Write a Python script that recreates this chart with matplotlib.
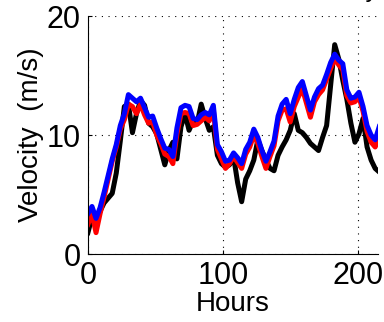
import matplotlib
matplotlib.use("Agg")
import matplotlib.pyplot as plt
import numpy as np

plt.rcParams['font.family'] = ['Liberation Sans', 'DejaVu Sans']

# hourly samples (every 3 h)
hours = np.arange(0, 217, 3)

observed = [1.8, 3.1, 2.7, 3.6, 4.3, 4.7, 5.1, 6.8, 9.5, 12.4, 12.6, 10.2,
            11.8, 12.9, 12.5, 11.0, 10.7, 10.1, 8.8, 7.5, 8.7, 9.4, 8.0, 10.7,
            11.8, 10.4, 11.2, 11.0, 12.6, 11.4, 10.4, 10.7, 8.3, 7.6, 7.3, 7.5,
            8.2, 6.0, 4.4, 6.3, 7.0, 7.9, 9.6, 8.7, 7.9, 7.2, 7.0, 8.3,
            9.0, 9.6, 10.4, 11.8, 10.4, 10.2, 9.8, 9.3, 9.0, 8.7, 9.8, 10.8,
            14.2, 17.6, 16.4, 14.6, 13.0, 11.0, 9.4, 10.1, 11.4, 9.0, 7.9, 7.2,
            6.9]

model_a = [2.5, 3.4, 1.8, 3.4, 4.8, 6.3, 7.8, 9.0, 10.5, 11.3, 12.6, 12.4,
           11.8, 12.6, 11.7, 11.0, 11.1, 10.0, 9.3, 8.4, 8.2, 7.6, 10.1, 11.8,
           11.9, 11.8, 10.8, 10.9, 11.2, 11.5, 11.2, 12.1, 8.8, 8.0, 7.2, 7.6,
           8.2, 7.7, 7.2, 8.4, 9.0, 10.0, 9.3, 8.2, 7.2, 8.2, 9.1, 11.2,
           12.1, 12.2, 11.1, 12.4, 13.2, 13.9, 12.7, 11.5, 12.8, 13.4, 13.8, 14.7,
           15.6, 16.4, 15.9, 15.5, 13.3, 12.7, 12.8, 13.2, 12.0, 10.3, 9.4, 9.0,
           9.8]

model_b = [3.4, 4.0, 3.0, 3.9, 5.2, 6.6, 8.0, 9.2, 10.8, 11.8, 13.4, 13.1,
           12.8, 13.1, 12.3, 11.5, 11.6, 10.6, 9.7, 8.9, 8.8, 8.2, 10.6, 12.3,
           12.5, 12.4, 11.4, 11.3, 11.7, 11.9, 11.7, 12.5, 9.2, 8.6, 7.8, 7.9,
           8.5, 8.1, 7.6, 8.8, 9.4, 10.5, 9.8, 8.7, 7.8, 8.6, 9.5, 11.6,
           12.6, 13.0, 11.8, 13.0, 14.0, 14.5, 13.3, 12.1, 13.2, 13.9, 14.2, 15.1,
           16.1, 16.8, 16.3, 16.0, 13.8, 13.1, 13.2, 13.6, 12.4, 10.8, 10.0, 9.6,
           10.7]

fig = plt.figure(figsize=(3.84, 3.22), dpi=100)
ax = fig.add_axes([0.229, 0.211, 0.755, 0.739])

ax.plot(hours, observed, color='k', lw=3.6)
ax.plot(hours, model_a, color='#ff0000', lw=3.6)
ax.plot(hours, model_b, color='#0000ff', lw=3.6)

ax.set_xlim(0, 215)
ax.set_ylim(0, 20)
ax.set_xticks([0, 100, 200])
ax.set_yticks([0, 10, 20])
ax.tick_params(direction='in', length=3, width=0.8, labelsize=22, pad=5)
ax.grid(True, color='k', linestyle=(0, (1, 5)), linewidth=0.8)
ax.spines['top'].set_visible(False)
ax.spines['right'].set_visible(False)

ax.set_xlabel('Hours', fontsize=20, labelpad=0)
ax.set_ylabel('Velocity  (m/s)', fontsize=20, labelpad=2)

fig.text(0.985, 1.01, 'Wind velocity', ha='right', va='baseline', fontsize=18)

fig.savefig('out.png', dpi=100)
